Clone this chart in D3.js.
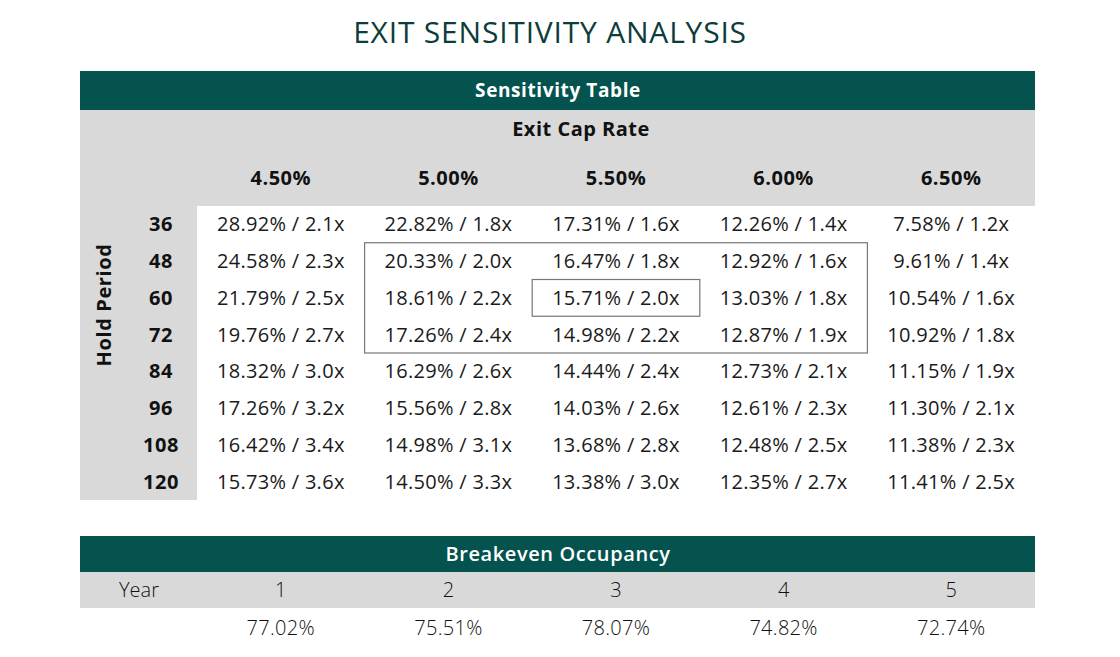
<!DOCTYPE html>
<html lang="en">
  <head>
    <meta charset="utf-8">
    <title>Exit Sensitivity Analysis</title>
    <script src="https://cdn.jsdelivr.net/npm/d3@7"></script>
    <style>
      body { margin: 0; background: #fff; }
      text { font-family: "Open Sans", "DejaVu Sans", sans-serif; }
    </style>
  </head>
  <body>
    <script>
      var w = 1120;
      var h = 657;

      // data
      var capRates = ["4.50%", "5.00%", "5.50%", "6.00%", "6.50%"];
      var holdPeriods = ["36", "48", "60", "72", "84", "96", "108", "120"];
      var irr = [
        ["28.92%", "22.82%", "17.31%", "12.26%", "7.58%"],
        ["24.58%", "20.33%", "16.47%", "12.92%", "9.61%"],
        ["21.79%", "18.61%", "15.71%", "13.03%", "10.54%"],
        ["19.76%", "17.26%", "14.98%", "12.87%", "10.92%"],
        ["18.32%", "16.29%", "14.44%", "12.73%", "11.15%"],
        ["17.26%", "15.56%", "14.03%", "12.61%", "11.30%"],
        ["16.42%", "14.98%", "13.68%", "12.48%", "11.38%"],
        ["15.73%", "14.50%", "13.38%", "12.35%", "11.41%"]
      ];
      var multiple = [
        ["2.1x", "1.8x", "1.6x", "1.4x", "1.2x"],
        ["2.3x", "2.0x", "1.8x", "1.6x", "1.4x"],
        ["2.5x", "2.2x", "2.0x", "1.8x", "1.6x"],
        ["2.7x", "2.4x", "2.2x", "1.9x", "1.8x"],
        ["3.0x", "2.6x", "2.4x", "2.1x", "1.9x"],
        ["3.2x", "2.8x", "2.6x", "2.3x", "2.1x"],
        ["3.4x", "3.1x", "2.8x", "2.5x", "2.3x"],
        ["3.6x", "3.3x", "3.0x", "2.7x", "2.5x"]
      ];
      var years = ["1", "2", "3", "4", "5"];
      var breakeven = ["77.02%", "75.51%", "78.07%", "74.82%", "72.74%"];

      var teal = "#04534f";
      var grey = "#d9d9d9";
      var left = 80, right = 1035, gridLeft = 197;

      var svg = d3.select("body").append("svg")
        .attr("width", w)
        .attr("height", h);

      var xScale = d3.scaleBand()
        .domain(capRates)
        .range([gridLeft, right]);

      var yScale = d3.scaleBand()
        .domain(holdPeriods)
        .range([206, 500]);

      // title
      svg.append("text")
        .attr("x", 550)
        .attr("y", 43)
        .attr("text-anchor", "middle")
        .attr("font-size", 30)
        .attr("fill", "#0c3d3a")
        .attr("letter-spacing", 0.8)
        .text("EXIT SENSITIVITY ANALYSIS");

      // sensitivity table header
      svg.append("rect")
        .attr("x", left).attr("y", 71)
        .attr("width", right - left).attr("height", 39)
        .attr("fill", teal);
      svg.append("text")
        .attr("x", 558)
        .attr("y", 97)
        .attr("text-anchor", "middle")
        .attr("font-size", 19)
        .attr("font-weight", 700)
        .attr("letter-spacing", 0.6)
        .attr("fill", "#fff")
        .text("Sensitivity Table");

      // grey bands
      svg.append("rect")
        .attr("x", left).attr("y", 110)
        .attr("width", right - left).attr("height", 96)
        .attr("fill", grey);
      svg.append("rect")
        .attr("x", left).attr("y", 206)
        .attr("width", gridLeft - left).attr("height", 294)
        .attr("fill", grey);

      svg.append("text")
        .attr("x", 581)
        .attr("y", 136)
        .attr("text-anchor", "middle")
        .attr("font-size", 20)
        .attr("font-weight", 700)
        .attr("letter-spacing", 0.5)
        .attr("fill", "#111")
        .text("Exit Cap Rate");

      svg.selectAll(".colhead")
        .data(capRates)
        .enter()
        .append("text")
        .attr("class", "colhead")
        .attr("x", function (d) { return xScale(d) + xScale.bandwidth() / 2; })
        .attr("y", 185)
        .attr("text-anchor", "middle")
        .attr("font-size", 20)
        .attr("font-weight", 700)
        .attr("letter-spacing", 0.5)
        .attr("fill", "#111")
        .text(function (d) { return d; });

      svg.append("text")
        .attr("transform", "translate(111,305) rotate(-90)")
        .attr("text-anchor", "middle")
        .attr("font-size", 20)
        .attr("font-weight", 700)
        .attr("letter-spacing", 0.6)
        .attr("fill", "#111")
        .text("Hold Period");

      svg.selectAll(".rowhead")
        .data(holdPeriods)
        .enter()
        .append("text")
        .attr("class", "rowhead")
        .attr("x", 161)
        .attr("y", function (d) { return yScale(d) + yScale.bandwidth() / 2; })
        .attr("dy", "0.35em")
        .attr("text-anchor", "middle")
        .attr("font-size", 20)
        .attr("font-weight", 700)
        .attr("letter-spacing", 0.5)
        .attr("fill", "#111")
        .text(function (d) { return d; });

      // cells
      var cells = [];
      holdPeriods.forEach(function (p, i) {
        capRates.forEach(function (c, j) {
          cells.push({ row: p, col: c, text: irr[i][j] + " / " + multiple[i][j] });
        });
      });

      svg.selectAll(".cell")
        .data(cells)
        .enter()
        .append("text")
        .attr("class", "cell")
        .attr("x", function (d) { return xScale(d.col) + xScale.bandwidth() / 2; })
        .attr("y", function (d) { return yScale(d.row) + yScale.bandwidth() / 2; })
        .attr("dy", "0.35em")
        .attr("text-anchor", "middle")
        .attr("font-size", 20)
        .attr("font-weight", 400)
        .attr("letter-spacing", 0.3)
        .attr("fill", "#1a1a1a")
        .text(function (d) { return d.text; });

      // highlight boxes
      svg.append("rect")
        .attr("x", xScale("5.00%"))
        .attr("y", yScale("48"))
        .attr("width", xScale("6.00%") + xScale.bandwidth() - xScale("5.00%"))
        .attr("height", yScale("72") + yScale.bandwidth() - yScale("48"))
        .attr("fill", "none")
        .attr("stroke", "#777")
        .attr("stroke-width", 1.2);
      svg.append("rect")
        .attr("x", xScale("5.50%"))
        .attr("y", yScale("60"))
        .attr("width", xScale.bandwidth())
        .attr("height", yScale.bandwidth())
        .attr("fill", "none")
        .attr("stroke", "#777")
        .attr("stroke-width", 1.2);

      // breakeven occupancy
      svg.append("rect")
        .attr("x", left).attr("y", 536)
        .attr("width", right - left).attr("height", 36)
        .attr("fill", teal);
      svg.append("text")
        .attr("x", 558)
        .attr("y", 561)
        .attr("text-anchor", "middle")
        .attr("font-size", 20)
        .attr("font-weight", 600)
        .attr("letter-spacing", 0.6)
        .attr("fill", "#fff")
        .text("Breakeven Occupancy");

      svg.append("rect")
        .attr("x", left).attr("y", 572)
        .attr("width", right - left).attr("height", 36)
        .attr("fill", grey);
      svg.append("text")
        .attr("x", 139)
        .attr("y", 590)
        .attr("dy", "0.35em")
        .attr("text-anchor", "middle")
        .attr("font-size", 20)
        .attr("font-weight", 300)
        .attr("fill", "#111")
        .text("Year");

      var yearScale = d3.scaleBand()
        .domain(years)
        .range([gridLeft, right]);

      svg.selectAll(".year")
        .data(years)
        .enter()
        .append("text")
        .attr("class", "year")
        .attr("x", function (d) { return yearScale(d) + yearScale.bandwidth() / 2; })
        .attr("y", 590)
        .attr("dy", "0.35em")
        .attr("text-anchor", "middle")
        .attr("font-size", 20)
        .attr("font-weight", 300)
        .attr("fill", "#111")
        .text(function (d) { return d; });

      svg.selectAll(".be")
        .data(breakeven)
        .enter()
        .append("text")
        .attr("class", "be")
        .attr("x", function (d, i) { return yearScale(years[i]) + yearScale.bandwidth() / 2; })
        .attr("y", 628)
        .attr("dy", "0.35em")
        .attr("text-anchor", "middle")
        .attr("font-size", 20)
        .attr("font-weight", 300)
        .attr("letter-spacing", 0.3)
        .attr("fill", "#111")
        .text(function (d) { return d; });
    </script>
  </body>
</html>
